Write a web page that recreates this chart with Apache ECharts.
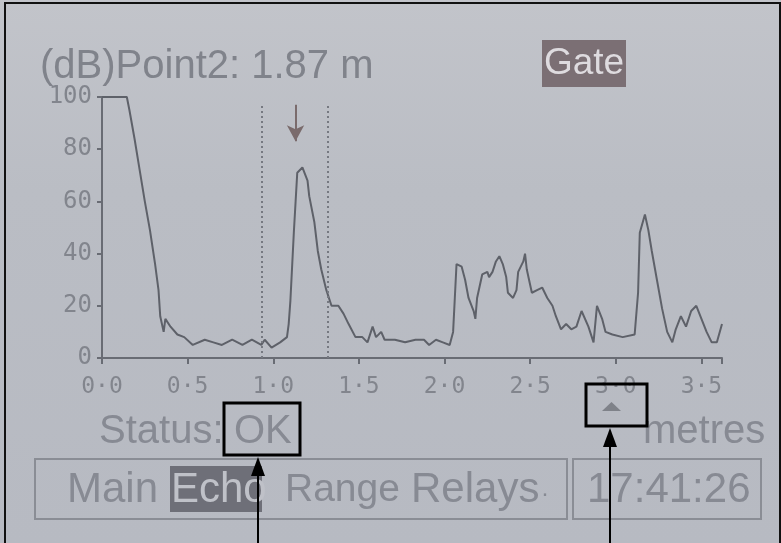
<!DOCTYPE html>
<html>
<head>
<meta charset="utf-8">
<script src="https://cdn.jsdelivr.net/npm/echarts@6/dist/echarts.min.js"></script>
<style>
html,body{margin:0;padding:0;}
#c{width:781px;height:543px;background:linear-gradient(180deg,#c2c4ca 0%,#babdc4 35%,#b7bac2 100%);}
</style>
</head>
<body>
<div id="c"></div>
<script>
// distance along the trace (metres)
const distance = [
  0, 0.145, 0.16, 0.19, 0.22, 0.25, 0.28, 0.31, 0.33, 0.34,
  0.36, 0.37, 0.40, 0.44, 0.48, 0.53, 0.60, 0.65, 0.70, 0.76,
  0.82, 0.875, 0.93, 0.95, 0.99, 1.04, 1.08, 1.09, 1.10, 1.12,
  1.14, 1.17, 1.20, 1.21, 1.24, 1.26, 1.28, 1.31, 1.34, 1.38,
  1.41, 1.44, 1.48, 1.52, 1.55, 1.58, 1.60, 1.63, 1.65, 1.71,
  1.77, 1.83, 1.88, 1.91, 1.95, 1.99, 2.03, 2.05, 2.06, 2.07,
  2.10, 2.12, 2.14, 2.17, 2.18, 2.19, 2.22, 2.25, 2.26, 2.28,
  2.30, 2.32, 2.34, 2.36, 2.37, 2.40, 2.42, 2.43, 2.46, 2.47,
  2.48, 2.50, 2.51, 2.54, 2.57, 2.60, 2.63, 2.65, 2.68, 2.71,
  2.74, 2.77, 2.80, 2.84, 2.87, 2.89, 2.92, 2.94, 2.98, 3.04,
  3.11, 3.13, 3.14, 3.17, 3.19, 3.21, 3.24, 3.27, 3.30, 3.33,
  3.35, 3.38, 3.41, 3.44, 3.47, 3.50, 3.53, 3.56, 3.59, 3.62
];
// echo level (dB)
const echoDb = [
  100, 100, 95, 84, 72, 60, 49, 36, 26, 16,
  10, 15, 12, 9, 8, 5, 7, 6, 5, 7,
  5, 7, 5, 7, 4, 6, 8, 13, 22, 48,
  71, 73, 68, 62, 52, 41, 34, 26, 20, 20,
  17, 13, 8, 8, 6, 12, 8, 10, 7, 7,
  6, 7, 7, 5, 7, 6, 5, 10, 23, 36,
  35, 30, 23, 18, 15, 23, 32, 33, 31, 33,
  37, 39, 36, 31, 25, 23, 26, 33, 37, 40,
  34, 28, 25, 26, 27, 23, 20, 16, 11, 13,
  11, 12, 18, 12, 6, 20, 15, 10, 9, 8,
  9, 25, 48, 55, 49, 41, 30, 19, 10, 6,
  11, 16, 12, 18, 20, 15, 10, 6, 6, 13
];
const xTickValues = [0, 0.5, 1.0, 1.5, 2.0, 2.5, 3.0, 3.5];
const xTickLabels = ['0·0', '0·5', '1·0', '1·5', '2·0', '2·5', '3·0', '3·5'];
const yTickLabels = ['0', '20', '40', '60', '80', '100'];
const gateLines = [0.935, 1.32];
const pointMarker = 1.13;
const pointMarkerTop = 97;
const pointMarkerBottom = 83;

const titleText = '(dB)Point2: 1.87 m';
const menuItems = ['Main', 'Echo', 'Range', 'Relays'];
const clockText = '17:41:26';

const chart = echarts.init(document.getElementById('c'), null, {renderer: 'canvas'});

const axisColor = '#696c74';
const labelColor = '#82858d';
const textColor = '#878a93';
const sans = '"Liberation Sans", Arial, sans-serif';
const mono = '"DejaVu Sans Mono", monospace';

const seriesData = distance.map((d, i) => [d, echoDb[i]]);

const markData = gateLines.map(g => [{coord: [g, 0]}, {coord: [g, 97]}]);

const option = {
  backgroundColor: 'transparent',
  animation: false,
  grid: {left: 102, right: 59, top: 97, bottom: 185},
  xAxis: {
    type: 'value', min: 0, max: 3.62, interval: 0.5, offset: 4,
    axisLine: {show: true, lineStyle: {color: axisColor, width: 2}},
    axisTick: {show: true, length: 6, inside: false, lineStyle: {color: axisColor, width: 2}},
    splitLine: {show: false},
    axisLabel: {
      color: labelColor, fontFamily: mono, fontSize: 23, margin: 14,
      formatter: v => {
        const i = xTickValues.findIndex(t => Math.abs(t - v) < 1e-6);
        return i >= 0 ? xTickLabels[i] : '';
      }
    }
  },
  yAxis: {
    type: 'value', min: 0, max: 100, interval: 20, offset: 2,
    axisLine: {show: true, lineStyle: {color: axisColor, width: 2}},
    axisTick: {show: true, length: 5, lineStyle: {color: axisColor, width: 2}},
    splitLine: {show: false},
    axisLabel: {
      color: labelColor, fontFamily: mono, fontSize: 24, margin: 8,
      formatter: v => yTickLabels[Math.round(v / 20)]
    }
  },
  series: [{
    type: 'line',
    data: seriesData,
    showSymbol: false,
    lineStyle: {color: '#5e6169', width: 2},
    markLine: {
      silent: true, symbol: ['none', 'none'],
      lineStyle: {color: '#767981', width: 2, type: [2, 3]},
      label: {show: false},
      data: markData
    },
    z: 3
  }, {
    type: 'line',
    data: [],
    markLine: {
      silent: true, symbol: ['none', 'arrow'], symbolSize: [13, 16],
      lineStyle: {color: '#7a6b6c', width: 2, type: 'solid'},
      label: {show: false},
      data: [[{coord: [pointMarker, pointMarkerTop]}, {coord: [pointMarker, pointMarkerBottom]}]]
    }
  }],
  graphic: [
    // outer frame
    {type: 'rect', shape: {x: 5, y: 3, width: 775, height: 545}, style: {fill: 'none', stroke: '#111', lineWidth: 2}, z: 50},
    // title
    {type: 'text', style: {text: titleText, x: 40, y: 67, font: '40px ' + sans, fill: '#80838b', textVerticalAlign: 'middle'}},
    // gate
    {type: 'rect', shape: {x: 542, y: 40, width: 84, height: 47}, style: {fill: '#7b6f74'}},
    {type: 'text', style: {text: 'Gate', x: 584, y: 64, font: '37px ' + sans, fill: '#dedbdf', textAlign: 'center', textVerticalAlign: 'middle'}},
    // status line
    {type: 'text', style: {text: 'Status:', x: 99, y: 432, font: '40px ' + sans, fill: textColor, textVerticalAlign: 'middle'}},
    {type: 'text', style: {text: 'OK', x: 234, y: 432, font: '40px ' + sans, fill: textColor, textVerticalAlign: 'middle'}},
    {type: 'text', style: {text: 'metres', x: 643, y: 432, font: '40px ' + sans, fill: textColor, textVerticalAlign: 'middle'}},
    {type: 'polygon', shape: {points: [[602, 411], [621, 411], [611.5, 402]]}, style: {fill: '#7f8289'}},
    // bottom menu
    {type: 'rect', shape: {x: 35, y: 459, width: 532, height: 60}, style: {fill: 'none', stroke: '#8a8d95', lineWidth: 2}},
    {type: 'rect', shape: {x: 573, y: 459, width: 188, height: 60}, style: {fill: 'none', stroke: '#8a8d95', lineWidth: 2}},
    {type: 'rect', shape: {x: 170, y: 466, width: 92, height: 46}, style: {fill: '#6e6f78'}},
    {type: 'text', style: {text: menuItems[0], x: 67, y: 490, font: '42px ' + sans, fill: textColor, textVerticalAlign: 'middle'}},
    {type: 'text', style: {text: menuItems[1], x: 171, y: 490, font: '42px ' + sans, fill: '#bfc1c8', textVerticalAlign: 'middle'}},
    {type: 'text', style: {text: menuItems[2], x: 285, y: 490, font: '39px ' + sans, fill: textColor, textVerticalAlign: 'middle'}},
    {type: 'text', style: {text: menuItems[3], x: 411, y: 490, font: '42px ' + sans, fill: textColor, textVerticalAlign: 'middle'}},
    {type: 'text', style: {text: '·', x: 541, y: 494, font: '24px ' + sans, fill: textColor, textVerticalAlign: 'middle'}},
    {type: 'text', style: {text: clockText, x: 587, y: 490, font: '42px ' + sans, fill: textColor, textVerticalAlign: 'middle'}},
    // annotation boxes and arrows
    {type: 'rect', shape: {x: 224, y: 403, width: 76, height: 52}, style: {fill: 'none', stroke: '#000', lineWidth: 3}, z: 60},
    {type: 'rect', shape: {x: 586, y: 384, width: 61, height: 42}, style: {fill: 'none', stroke: '#000', lineWidth: 3}, z: 60},
    {type: 'line', shape: {x1: 258, y1: 543, x2: 258, y2: 470}, style: {stroke: '#000', lineWidth: 2}, z: 60},
    {type: 'polygon', shape: {points: [[251, 476], [265, 476], [258, 457]]}, style: {fill: '#000'}, z: 60},
    {type: 'line', shape: {x1: 610, y1: 543, x2: 610, y2: 440}, style: {stroke: '#000', lineWidth: 2}, z: 60},
    {type: 'polygon', shape: {points: [[603, 447], [617, 447], [610, 428]]}, style: {fill: '#000'}, z: 60}
  ]
};
chart.setOption(option);
</script>
</body>
</html>
